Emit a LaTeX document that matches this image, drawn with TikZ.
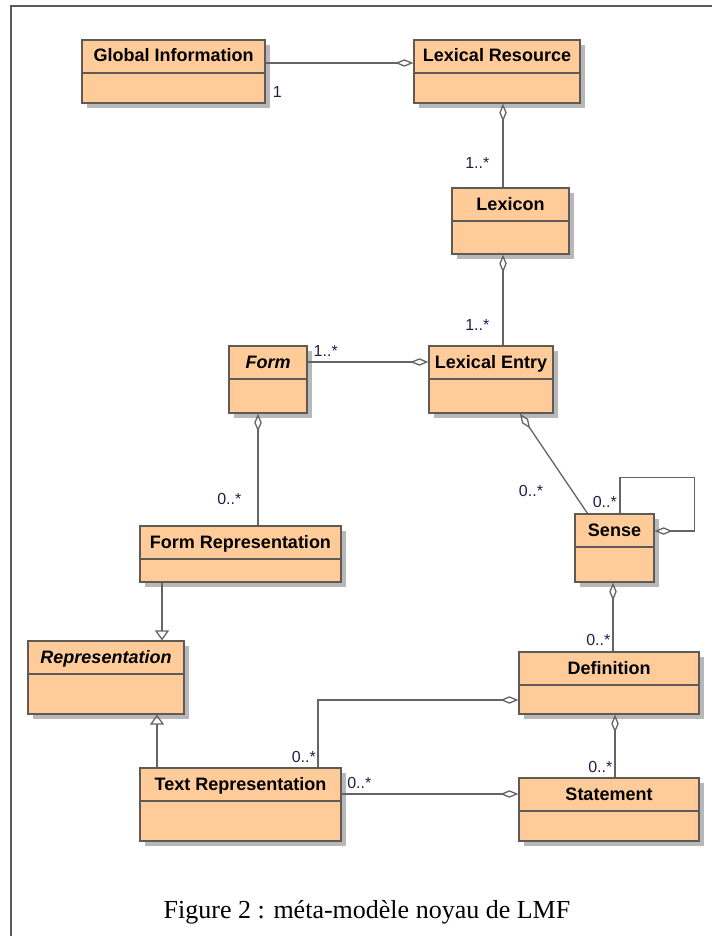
\documentclass[tikz,border=0pt]{standalone}
\usepackage{fontspec}
\setmainfont{Liberation Serif}
\setsansfont{Liberation Sans}
\usetikzlibrary{arrows.meta,positioning,shadows}
\definecolor{classfill}{RGB}{255,204,153}
\definecolor{classline}{RGB}{95,90,85}
\definecolor{linkgray}{RGB}{100,100,100}
\definecolor{multblue}{RGB}{30,30,75}
\definecolor{framegray}{RGB}{90,90,90}

\begin{document}
\begin{tikzpicture}[x=1pt, y=-1pt]
  % Define styles
  \tikzstyle{classbox} = [rectangle, draw=classline, fill=classfill, line width=1.2pt, inner xsep=4pt, inner ysep=0pt, text height=22pt, font=\sffamily\bfseries\fontsize{18}{20}\selectfont, general shadow={fill=black!28, shadow xshift=5pt, shadow yshift=-5pt}, path picture={\draw[classline, line width=1.2pt] ([yshift=-33pt]path picture bounding box.north west) -- ([yshift=-33pt]path picture bounding box.north east);}]
  \tikzstyle{mult} = [font=\sffamily\fontsize{16}{18}\selectfont, text=multblue, inner sep=0pt]
  \tikzstyle{aggr} = [draw=linkgray, line width=1.3pt, {Diamond[open, length=18pt, width=7.5pt]}-]
  \tikzstyle{gener} = [draw=linkgray, line width=1.3pt, -{Triangle[open, length=10pt, width=14pt]}]

  \useasboundingbox (0,0) rectangle (712,936);
  \draw [draw=framegray, line width=1.3pt] (11,936) -- (11,6) -- (712,6);

  % Place nodes
  \node [classbox, minimum width=183pt, text depth=41pt] (globinfo) at (173.5,71.5) {Global Information};
  \node [classbox, minimum width=166pt, text depth=41pt] (lexres) at (497,71.5) {Lexical Resource};
  \node [classbox, minimum width=117pt, text depth=44pt] (lexicon) at (510.5,221) {Lexicon};
  \node [classbox, minimum width=124pt, text depth=45pt] (lexentry) at (491,379.5) {Lexical Entry};
  \node [classbox, minimum width=78pt, text depth=45pt] (form) at (268,379.5) {\itshape Form};
  \node [classbox, minimum width=201pt, text depth=34pt] (formrep) at (240.5,554) {Form Representation};
  \node [classbox, minimum width=156pt, text depth=51pt] (rep) at (106,677.5) {\itshape Representation};
  \node [classbox, minimum width=201pt, text depth=51pt] (textrep) at (240.5,804.5) {Text Representation};
  \node [classbox, minimum width=79pt, text depth=46pt] (sense) at (614.5,548) {Sense};
  \node [classbox, minimum width=180pt, text depth=40pt] (definition) at (609,683) {Definition};
  \node [classbox, minimum width=180pt, text depth=41pt] (statement) at (609,809.5) {Statement};
  \node [font=\fontsize{26}{30}\selectfont] (caption) at (367,912) {Figure 2 : méta-modèle noyau de LMF};

  % Draw edges with labels
  \path [aggr] ([yshift=8.5pt]lexres.west) -- node[mult, pos=0.92, below=23pt] {1} ([yshift=8.5pt]globinfo.east);
  \path [aggr] ([xshift=6pt]lexres.south) -- node[mult, pos=0.71, left=13pt] {1..*} ([xshift=-7.5pt]lexicon.north);
  \path [aggr] ([xshift=-7.5pt]lexicon.south) -- node[mult, pos=0.77, left=13pt] {1..*} ([xshift=12pt]lexentry.north);
  \path [aggr] ([yshift=17.5pt]lexentry.west) -- node[mult, pos=0.85, above=5pt] {1..*} ([yshift=17.5pt]form.east);
  \path [aggr] ([xshift=-10pt]form.south) -- node[mult, pos=0.76, left=16pt] {0..*} ([xshift=17.5pt]formrep.north);
  \path [aggr] ([xshift=29pt]lexentry.south) -- node[mult, pos=0.78, left=29pt] {0..*} ([xshift=-27pt]sense.north);
  \path [aggr] ([yshift=17pt]sense.east) -- ++(40,0) |- ([xshift=5.5pt, yshift=36pt]sense.north) -- node[mult, pos=0.69, left=2.5pt] {0..*} ([xshift=5.5pt]sense.north);
  \path [aggr] ([xshift=-1.5pt]sense.south) -- node[mult, pos=0.83, left=2pt] {0..*} ([xshift=4pt]definition.north);
  \path [aggr] ([xshift=6pt]definition.south) -- node[mult, pos=0.83, left=2pt] {0..*} ([xshift=6pt]statement.north);
  \path [aggr] ([yshift=-17pt]definition.west) -| node[mult, pos=0.92, left=1.5pt] {0..*} ([xshift=77.5pt]textrep.north);
  \path [aggr] ([yshift=15.5pt]statement.west) -- node[mult, pos=0.9, above=5pt] {0..*} ([yshift=10.5pt]textrep.east);
  \path [gener] ([xshift=-78.5pt]formrep.south) -- ([xshift=56pt]rep.north);
  \path [gener] ([xshift=-83.5pt]textrep.north) -- ([xshift=51pt]rep.south);
\end{tikzpicture}
\end{document}
